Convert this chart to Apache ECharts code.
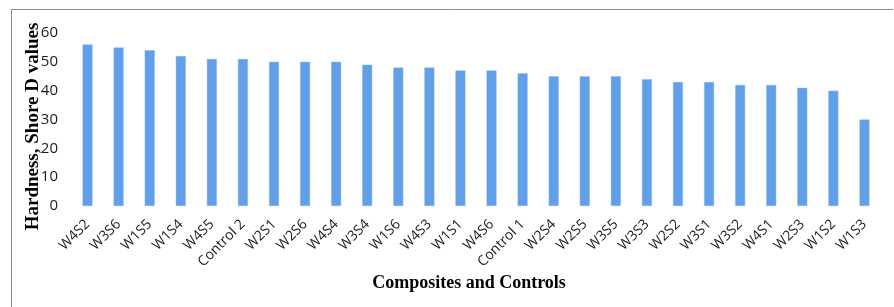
<!DOCTYPE html>
<html>
<head>
<meta charset="utf-8">
<script src="https://cdn.jsdelivr.net/npm/echarts@6/dist/echarts.min.js"></script>
<style>
  html, body { margin: 0; padding: 0; background: #fff; }
  #main { width: 894px; height: 307px; }
</style>
</head>
<body>
<div id="main"></div>
<script>
// 样品名称
var categories = ['W4S2', 'W3S6', 'W1S5', 'W1S4', 'W4S5', 'Control 2', 'W2S1', 'W2S6', 'W4S4',
    'W3S4', 'W1S6', 'W4S3', 'W1S1', 'W4S6', 'Control 1', 'W2S4', 'W2S5', 'W3S5', 'W3S3',
    'W2S2', 'W3S1', 'W3S2', 'W4S1', 'W2S3', 'W1S2', 'W1S3'];
// 硬度值
var hardness = [56, 55, 54, 52, 51, 51, 50, 50, 50, 49, 48, 48, 47, 47, 46, 45, 45, 45, 44,
    43, 43, 42, 42, 41, 40, 30];
var yTicks = [0, 10, 20, 30, 40, 50, 60];

var myChart = echarts.init(document.getElementById('main'));

var option = {
    animation: false,
    grid: {
        left: 72,
        right: 14,
        top: 33,
        bottom: 101
    },
    graphic: [
        {
            type: 'polyline',
            shape: { points: [[11.5, 307], [11.5, 9.5], [893, 9.5]] },
            style: { stroke: '#8c8c8c', lineWidth: 1, fill: null }
        }
    ],
    xAxis: {
        type: 'category',
        data: categories,
        name: 'Composites and Controls',
        nameLocation: 'middle',
        nameGap: 68,
        nameMoveOverlap: false,
        nameTextStyle: {
            fontFamily: 'Liberation Serif',
            fontWeight: 'bold',
            fontSize: 18,
            color: '#000',
            padding: [0, 14, 0, 0]
        },
        axisLine: { show: false },
        axisTick: { show: false },
        axisLabel: {
            rotate: 45,
            interval: 0,
            margin: 16,
            fontFamily: 'Open Sans',
            fontSize: 14,
            color: '#1a1a1a'
        }
    },
    yAxis: {
        type: 'value',
        min: yTicks[0],
        max: yTicks[yTicks.length - 1],
        interval: 10,
        name: 'Hardness, Shore D values',
        nameLocation: 'middle',
        nameGap: 29,
        nameMoveOverlap: false,
        nameTextStyle: {
            fontFamily: 'Liberation Serif',
            fontWeight: 'bold',
            fontSize: 19,
            color: '#000',
            padding: [0, 14, 0, 0]
        },
        splitLine: { show: false },
        axisLine: { show: false },
        axisTick: { show: false },
        axisLabel: {
            margin: 14,
            fontFamily: 'Open Sans',
            fontSize: 15,
            color: '#1a1a1a'
        }
    },
    series: [{
        name: 'Hardness',
        type: 'bar',
        data: hardness,
        barWidth: 10,
        itemStyle: {
            color: '#619fe8',
            borderColor: '#8ab8ee',
            borderWidth: 0.5
        }
    }]
};
myChart.setOption(option);
</script>
</body>
</html>
